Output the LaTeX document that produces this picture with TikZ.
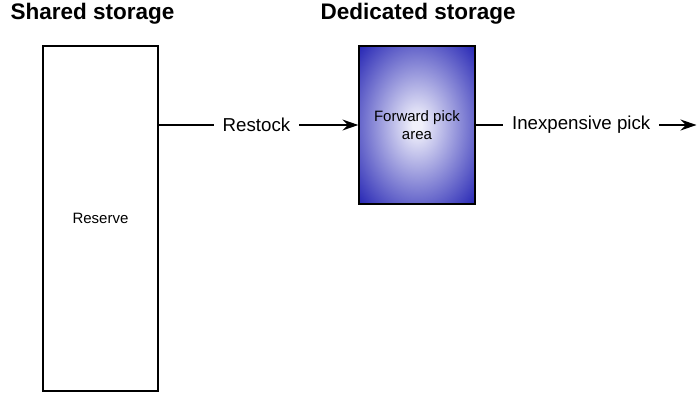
\documentclass[tikz,border=0pt]{standalone}
\usepackage{fontspec}
\setmainfont{Liberation Sans}
\usetikzlibrary{arrows.meta}
\definecolor{fpaIn}{HTML}{F0F0FB}
\definecolor{fpaOut}{HTML}{2626B4}
\pgfdeclareradialshading{fpashade}{\pgfpoint{0bp}{0bp}}{color(0bp)=(fpaIn); color(2bp)=(fpaIn); color(35.4bp)=(fpaOut); color(50bp)=(fpaOut)}
\begin{document}
\begin{tikzpicture}[x=1pt,y=-1pt,
  box/.style={draw=black, line width=1.3pt, rectangle, inner sep=0pt, align=center},
  title/.style={font=\fontsize{22.5}{26}\selectfont\bfseries, anchor=base west, inner sep=0pt},
  boxtext/.style={font=\fontsize{15}{18.3}\selectfont},
  flow/.style={line width=1.3pt, -{Stealth[length=16pt,width=11pt,inset=5.5pt]}},
  flowlabel/.style={fill=white, font=\fontsize{18.7}{22}\selectfont, inner xsep=9pt, inner ysep=2pt}
]
\useasboundingbox (0,0) rectangle (697,397);
\node[title] (t1) at (10.5,19.5) {Shared storage};
\node[title] (t2) at (320.5,19.5) {Dedicated storage};
\node[box, minimum width=115pt, minimum height=345pt, boxtext] (reserve) at (100.5,218.5) {Reserve};
\node[box, minimum width=116pt, minimum height=158pt, boxtext, shading=fpashade]
  (fpa) at (417,125) {Forward pick\\area};
\draw[flow] (reserve.east |- fpa.west) -- node[flowlabel, pos=0.49] (l1) {Restock} (fpa.west);
\coordinate (out) at (696.5,125);
\draw[flow] (fpa.east) -- node[flowlabel, pos=0.478] (l2) {Inexpensive pick} (out);
\end{tikzpicture}
\end{document}
